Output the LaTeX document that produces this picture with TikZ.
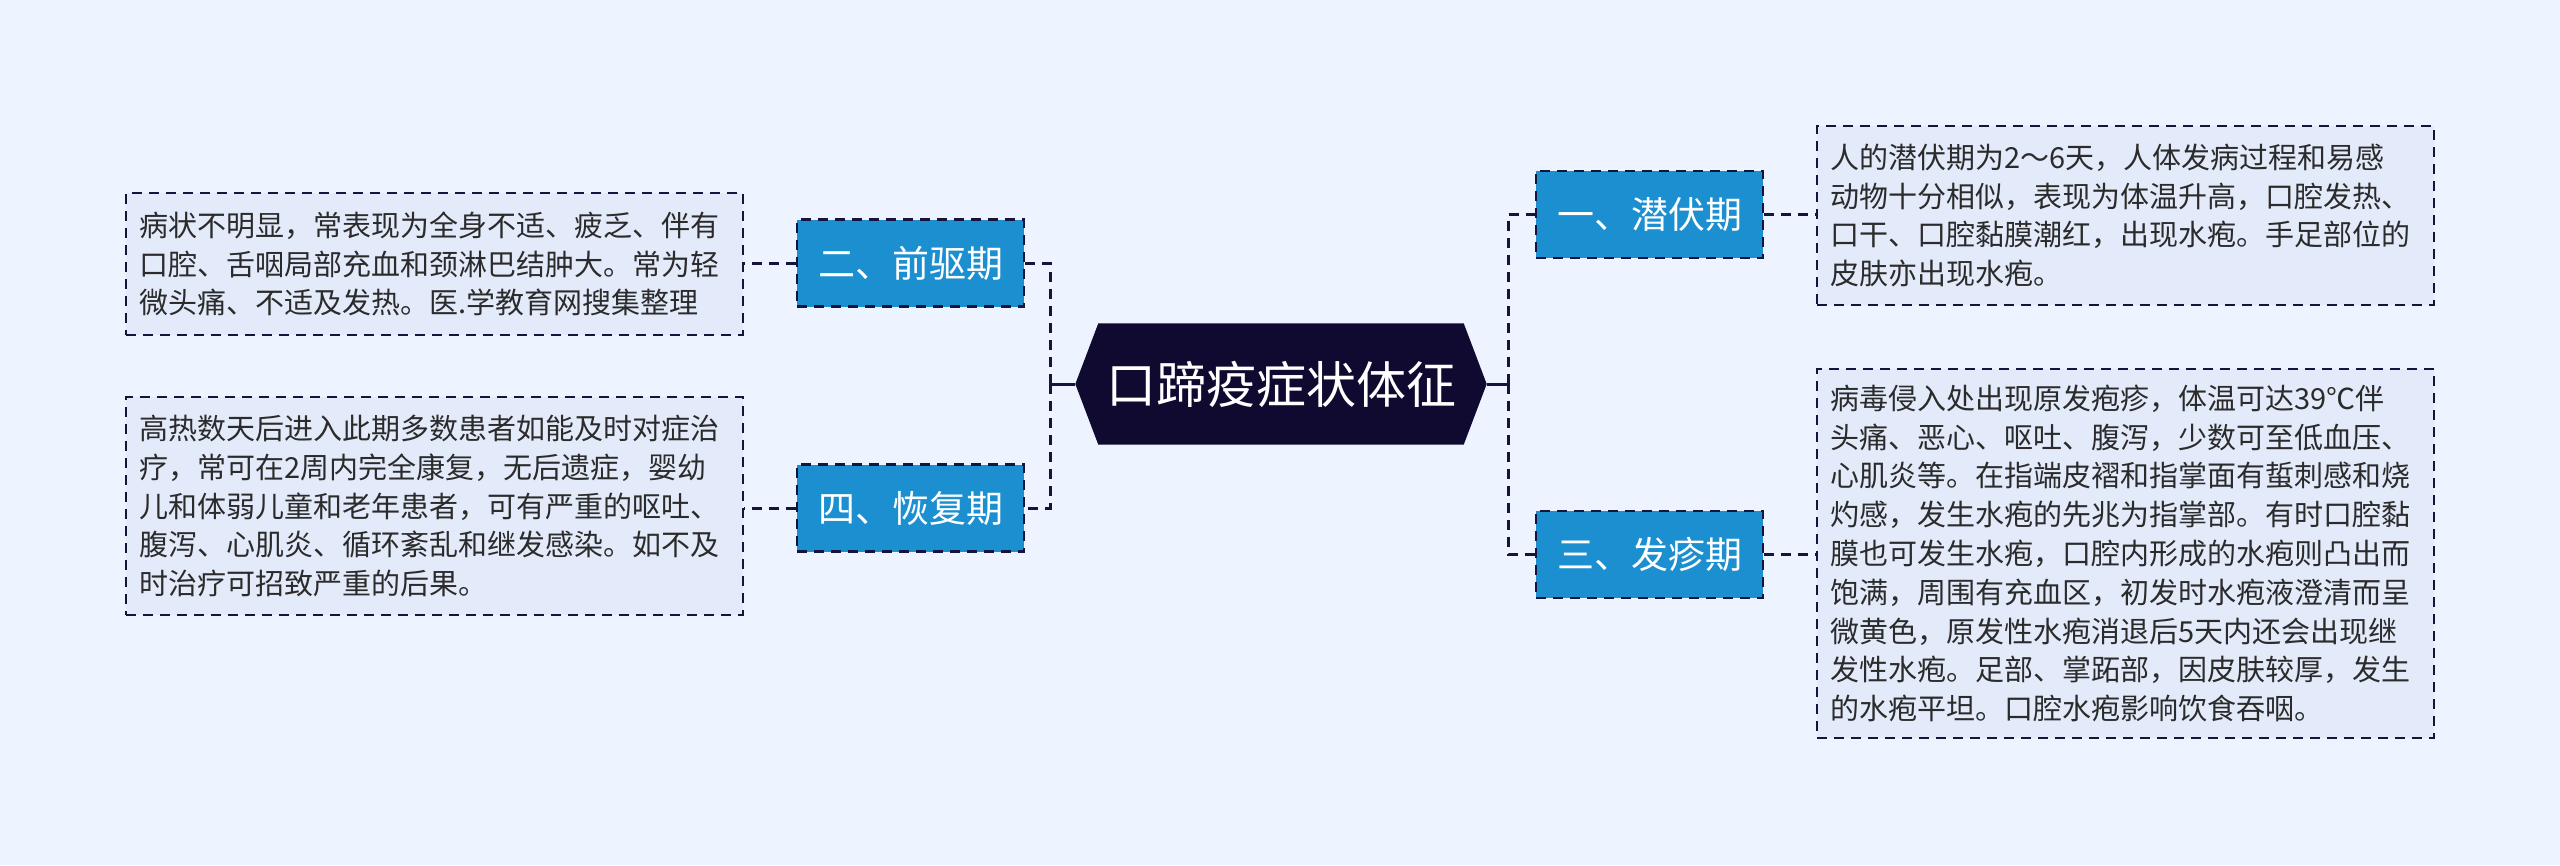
\documentclass[tikz,border=0pt]{standalone}
\usepackage{fontspec}
\setmainfont{Noto Sans CJK SC}
\usetikzlibrary{backgrounds}
\definecolor{bgcol}{HTML}{EEF4FF}
\definecolor{notecol}{HTML}{E3EBFB}
\definecolor{phasecol}{HTML}{1B8FD0}
\definecolor{rootcol}{HTML}{100A30}
\definecolor{linecol}{HTML}{15143A}
\definecolor{txtcol}{HTML}{2B2B2B}

\begin{document}
\begin{tikzpicture}
  [x=1pt,y=-1pt,
   dsh/.style={dash pattern=on 10pt off 7pt},
   phase/.style={rectangle,draw=linecol,dsh,line width=2.5pt,fill=phasecol,text=white,
     minimum width=227pt,minimum height=87pt,inner sep=0pt,font=\fontsize{37}{42}\selectfont},
   note/.style={rectangle,draw=linecol,dsh,line width=2pt,fill=notecol,text=txtcol,
     minimum width=617pt,inner sep=0pt,text width=591pt,align=left,
     font=\fontsize{29}{38.8}\selectfont},
   link/.style={draw=linecol,line width=3pt,dsh}]
  \useasboundingbox (0,0) rectangle (2560,865);

  \node[minimum width=365pt,minimum height=121pt,inner sep=0pt,text=white,
    font=\fontsize{50}{56}\selectfont] (root) at (1281,384) {口蹄疫症状体征};
  \coordinate (rootL) at ([xshift=-23pt]root.west);
  \coordinate (rootR) at ([xshift=23pt]root.east);
  \begin{scope}[on background layer]
    \fill[bgcol] (0,0) rectangle (2560,865);
    \fill[rootcol] (root.north west) -- (root.north east) -- (rootR)
      -- (root.south east) -- (root.south west) -- (rootL) -- cycle;
  \end{scope}

  \node[phase] (p1) at (1649.5,214.5) {一、潜伏期};
  \node[phase] (p3) at (1649.5,554.5) {三、发疹期};
  \node[phase] (p2) at (910.5,263)    {二、前驱期};
  \node[phase] (p4) at (910.5,508)    {四、恢复期};

  \node[note,minimum height=179pt] (n1) at (2125.5,215.5)
    {人的潜伏期为2～6天，人体发病过程和易感\\动物十分相似，表现为体温升高，口腔发热、\\口干、口腔黏膜潮红，出现水疱。手足部位的\\皮肤亦出现水疱。};
  \node[note,minimum height=369pt] (n3) at (2125.5,553.5)
    {病毒侵入处出现原发疱疹，体温可达39℃伴\\头痛、恶心、呕吐、腹泻，少数可至低血压、\\心肌炎等。在指端皮褶和指掌面有蜇刺感和烧\\灼感，发生水疱的先兆为指掌部。有时口腔黏\\膜也可发生水疱，口腔内形成的水疱则凸出而\\饱满，周围有充血区，初发时水疱液澄清而呈\\微黄色，原发性水疱消退后5天内还会出现继\\发性水疱。足部、掌跖部，因皮肤较厚，发生\\的水疱平坦。口腔水疱影响饮食吞咽。};
  \node[note,minimum height=142pt] (n2) at (434.5,264)
    {病状不明显，常表现为全身不适、疲乏、伴有\\口腔、舌咽局部充血和颈淋巴结肿大。常为轻\\微头痛、不适及发热。医.学教育网搜集整理};
  \node[note,minimum height=218pt] (n4) at (434.5,506)
    {高热数天后进入此期多数患者如能及时对症治\\疗，常可在2周内完全康复，无后遗症，婴幼\\儿和体弱儿童和老年患者，可有严重的呕吐、\\腹泻、心肌炎、循环紊乱和继发感染。如不及\\时治疗可招致严重的后果。};

  \coordinate (trR) at (1508,384);
  \coordinate (trL) at (1050,384);
  \draw[draw=linecol,line width=3pt] (rootR) -- (trR);
  \draw[draw=linecol,line width=3pt] (rootL) -- (trL);
  \foreach \p in {p1,p3}
    \draw[link] (trR) |- (\p.west);
  \foreach \p in {p2,p4}
    \draw[link] (trL) |- (\p.east);
  \foreach \p/\n in {p1/n1,p3/n3}
    \draw[link] (\p.east) -- (\n.west |- \p.east);
  \foreach \p/\n in {p2/n2,p4/n4}
    \draw[link] (\p.west) -- (\n.east |- \p.west);
\end{tikzpicture}
\end{document}
